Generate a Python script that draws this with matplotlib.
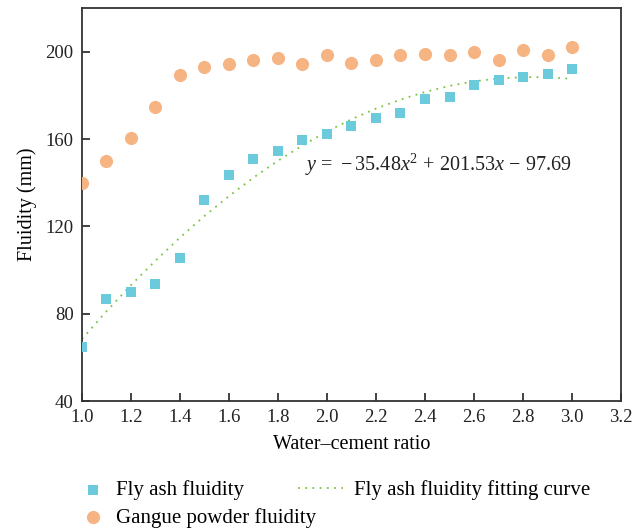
import numpy as np
import matplotlib
matplotlib.use('Agg')
import matplotlib.pyplot as plt

plt.rcParams['font.family'] = ['Liberation Serif', 'DejaVu Serif']
plt.rcParams['mathtext.fontset'] = 'custom'
plt.rcParams['mathtext.rm'] = 'Liberation Serif'
plt.rcParams['mathtext.it'] = 'Liberation Serif:italic'

# ---- data ----
ratio = [1.0, 1.1, 1.2, 1.3, 1.4, 1.5, 1.6, 1.7, 1.8, 1.9, 2.0,
         2.1, 2.2, 2.3, 2.4, 2.5, 2.6, 2.7, 2.8, 2.9, 3.0]
fly_ash = [64.8, 86.8, 90.0, 93.6, 105.6, 132.0, 143.6, 151.0, 154.6, 159.7, 162.4,
           166.0, 169.7, 172.0, 178.4, 179.3, 184.9, 187.0, 188.5, 190.0, 192.2]
gangue = [140.0, 150.0, 160.6, 174.8, 189.5, 193.0, 194.5, 196.3, 197.2, 194.5, 198.6,
          195.0, 196.3, 198.6, 199.0, 198.6, 200.0, 196.3, 201.0, 198.6, 202.3]
fit_curve = [68.4, 81.1, 93.1, 104.3, 114.9, 124.8, 133.9, 142.4, 150.1, 157.1, 163.5,
             169.1, 174.0, 178.1, 181.6, 184.4, 186.5, 187.8, 188.4, 188.4, 187.6]

fig = plt.figure(figsize=(6.44, 5.28), dpi=100)
ax = fig.add_axes([0.1273, 0.2405, 0.837, 0.744])

fit_line, = ax.plot(ratio, fit_curve, linestyle=(0, (1, 3)), color='#7cc242', lw=1.3,
                    label='Fly ash fluidity fitting curve', zorder=2)
sq = ax.scatter(ratio, fly_ash, marker='s', s=58, color='#6ccadd', lw=0,
                label='Fly ash fluidity', zorder=3)
ci = ax.scatter(ratio, gangue, marker='o', s=90, color='#f6b483', lw=0,
                label='Gangue powder fluidity', zorder=3)

ax.set_xlim(1.0, 3.2)
ax.set_ylim(40, 220)
ax.set_xticks(np.arange(1.0, 3.21, 0.2))
ax.set_yticks([40, 80, 120, 160, 200])
ax.xaxis.set_major_formatter(matplotlib.ticker.FormatStrFormatter('%.1f'))
ax.tick_params(direction='in', length=6, width=1.2, labelsize=13.5, colors='#222222')
ax.tick_params(axis='x', pad=6)
ax.tick_params(axis='y', pad=6)
for sp in ax.spines.values():
    sp.set_linewidth(1.3)
    sp.set_color('#333333')

ax.set_xlabel('Water\u2013cement ratio', fontsize=14.5, labelpad=6)
ax.set_ylabel('Fluidity (mm)', fontsize=14.5, labelpad=6)

ax.text(1.91, 148, r'$y\,=\,-35.48x^2\,+\,201.53x\,-\,97.69$', fontsize=14.5,
        va='center', ha='left', color='#222222')

# markers legend (left) and fitting-curve legend (right)
leg1 = fig.legend([sq, ci], ['Fly ash fluidity', 'Gangue powder fluidity'],
                  frameon=False, loc='upper left', bbox_to_anchor=(0.128, 0.09),
                  fontsize=15, handlelength=1.0, handletextpad=0.6,
                  labelspacing=0.35, borderaxespad=0, borderpad=0)
leg2 = fig.legend([fit_line], ['Fly ash fluidity fitting curve'],
                  frameon=False, loc='upper left', bbox_to_anchor=(0.462, 0.09),
                  fontsize=15, handlelength=2.2, handletextpad=0.5,
                  borderaxespad=0, borderpad=0)

fig.savefig('out.png', dpi=100)
